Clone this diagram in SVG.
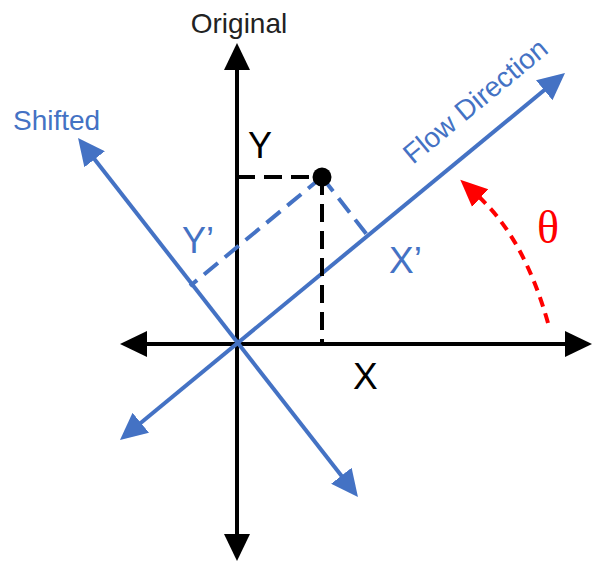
<svg xmlns="http://www.w3.org/2000/svg" width="594" height="563" viewBox="0 0 594 563">
<style>
.ax{stroke:#000;stroke-width:4;fill:none}
.bl{stroke:#4472C4;stroke-width:4;fill:none}
.bd{stroke:#000;stroke-width:4;fill:none;stroke-dasharray:18 9}
.bld{stroke:#4472C4;stroke-width:4;fill:none;stroke-dasharray:18 9}
.rd{stroke:#FF0000;stroke-width:4;fill:none;stroke-dasharray:10 7}
.t{font-family:"Liberation Sans",Arial,sans-serif}
.tb{fill:#000}
.tu{fill:#4472C4}
</style>
<defs>
<marker id="ak" markerUnits="userSpaceOnUse" markerWidth="28" markerHeight="26" viewBox="0 0 28 26" refX="3" refY="13" orient="auto-start-reverse"><path d="M0,0 L27,13 L0,26 z" fill="#000"/></marker>
<marker id="au" markerUnits="userSpaceOnUse" markerWidth="28" markerHeight="26" viewBox="0 0 28 26" refX="3" refY="13" orient="auto-start-reverse"><path d="M0,0 L27,13 L0,26 z" fill="#4472C4"/></marker>
<marker id="ar" markerUnits="userSpaceOnUse" markerWidth="28" markerHeight="26" viewBox="0 0 28 26" refX="3" refY="13" orient="auto"><path d="M0,1 L27,13 L0,25 z" fill="#FF0000"/></marker>
</defs>
<rect width="594" height="563" fill="#fff"/>
<g id="connectors">
<line class="ax" x1="237" y1="67" x2="237" y2="537" marker-start="url(#ak)" marker-end="url(#ak)"/>
<line class="ax" x1="144" y1="344" x2="568" y2="344" marker-start="url(#ak)" marker-end="url(#ak)"/>
<line class="bl" x1="138.5" y1="424.7" x2="546.5" y2="88.3" marker-start="url(#au)" marker-end="url(#au)"/>
<line class="bl" x1="92.8" y1="156.9" x2="343.2" y2="478.1" marker-start="url(#au)" marker-end="url(#au)"/>
<line class="bd" x1="237" y1="177" x2="322" y2="177"/>
<line class="bd" x1="322" y1="177" x2="322" y2="344"/>
<line class="bld" x1="322" y1="177" x2="190" y2="286"/>
<line class="bld" x1="322" y1="177" x2="371" y2="240"/>
<path class="rd" d="M548,323 Q524,238 478,196" marker-end="url(#ar)"/>
</g>
<g id="point"><circle cx="322" cy="177" r="9.5" fill="#000"/></g>
<g id="labels">
<text class="t" x="239" y="33" font-size="28" fill="#222" text-anchor="middle">Original</text>
<text class="t tu" x="13" y="130" font-size="28">Shifted</text>
<text class="t tb" x="248" y="158" font-size="36">Y</text>
<text class="t tb" x="353" y="389" font-size="37">X</text>
<text class="t tu" x="182" y="253" font-size="36">Y’</text>
<text class="t tu" x="389" y="273" font-size="37">X’</text>
<text class="t tu" font-size="28" transform="translate(413,165) rotate(-39.6)">Flow Direction</text>
<text x="537" y="243" font-size="46" fill="#FF0000" font-family="'Liberation Serif','Times New Roman',serif">θ</text>
</g>
</svg>
